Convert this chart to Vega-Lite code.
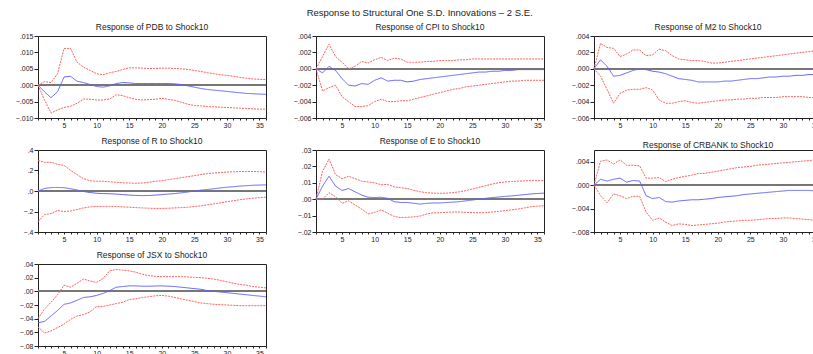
{
"$schema": "https://vega.github.io/schema/vega-lite/v6.json",
"background": "white",
"padding": {"left": 14, "top": 7, "right": 0, "bottom": 0},
"title": {"text": "Response to Structural One S.D. Innovations – 2 S.E.", "fontSize": 9.5, "fontWeight": "normal", "font": "Liberation Sans", "color": "#222", "anchor": "middle", "offset": 5},
"config": {
 "font": "Liberation Sans",
 "view": {"stroke": "#222", "strokeWidth": 1},
 "axis": {"grid": false, "domain": false, "tickColor": "#222", "tickSize": 4, "labelFontSize": 7, "labelColor": "#222", "labelPadding": 1, "labelOverlap": false, "labelFlush": false},
 "axisX": {"tickSize": 2, "labelPadding": 1},
 "title": {"fontSize": 8.5, "fontWeight": "normal", "color": "#222", "offset": 1},
 "legend": {"disable": true},
 "line": {"strokeWidth": 1}
},
"datasets": {
"pdb": [
{"h":1,"r":0,"lo":0,"hi":0},{"h":2,"r":-0.002,"lo":-0.0045,"hi":0.0011},{"h":3,"r":-0.0038,"lo":-0.0085,"hi":0.0008},{"h":4,"r":-0.002,"lo":-0.0075,"hi":0.0035},{"h":5,"r":0.0025,"lo":-0.0068,"hi":0.0112},{"h":6,"r":0.0027,"lo":-0.0064,"hi":0.0112},{"h":7,"r":0.0012,"lo":-0.0055,"hi":0.007},{"h":8,"r":0.0008,"lo":-0.0042,"hi":0.0055},{"h":9,"r":0.0002,"lo":-0.0043,"hi":0.0045},{"h":10,"r":-0.0004,"lo":-0.0045,"hi":0.0035},{"h":11,"r":-0.0006,"lo":-0.0045,"hi":0.0032},{"h":12,"r":-0.0002,"lo":-0.0042,"hi":0.0038},{"h":13,"r":0.0005,"lo":-0.0029,"hi":0.0042},{"h":14,"r":0.0008,"lo":-0.0032,"hi":0.0048},{"h":15,"r":0.0007,"lo":-0.0038,"hi":0.0053},{"h":16,"r":0.0005,"lo":-0.0043,"hi":0.0053},{"h":17,"r":0.0005,"lo":-0.0045,"hi":0.0052},{"h":18,"r":0.0005,"lo":-0.0044,"hi":0.0051},{"h":19,"r":0.0005,"lo":-0.0043,"hi":0.0051},{"h":20,"r":0.0005,"lo":-0.004,"hi":0.0052},{"h":21,"r":0.0005,"lo":-0.0043,"hi":0.0052},{"h":22,"r":0.0004,"lo":-0.0046,"hi":0.0051},{"h":23,"r":0.0002,"lo":-0.0052,"hi":0.005},{"h":24,"r":-0.0002,"lo":-0.0058,"hi":0.0048},{"h":25,"r":-0.0006,"lo":-0.0062,"hi":0.0045},{"h":26,"r":-0.001,"lo":-0.0063,"hi":0.0042},{"h":27,"r":-0.0013,"lo":-0.0065,"hi":0.0038},{"h":28,"r":-0.0015,"lo":-0.0066,"hi":0.0035},{"h":29,"r":-0.0017,"lo":-0.0067,"hi":0.0032},{"h":30,"r":-0.0019,"lo":-0.0068,"hi":0.003},{"h":31,"r":-0.0021,"lo":-0.0069,"hi":0.0027},{"h":32,"r":-0.0023,"lo":-0.007,"hi":0.0024},{"h":33,"r":-0.0025,"lo":-0.0071,"hi":0.0021},{"h":34,"r":-0.0026,"lo":-0.0072,"hi":0.0019},{"h":35,"r":-0.0027,"lo":-0.0073,"hi":0.0018},{"h":36,"r":-0.0028,"lo":-0.0073,"hi":0.0017}
],
"cpi": [
{"h":1,"r":0,"lo":0,"hi":0},{"h":2,"r":-0.0005,"lo":-0.0027,"hi":0.0015},{"h":3,"r":0.0003,"lo":-0.0023,"hi":0.003},{"h":4,"r":-0.0002,"lo":-0.002,"hi":0.0015},{"h":5,"r":-0.0012,"lo":-0.0034,"hi":0.0008},{"h":6,"r":-0.002,"lo":-0.004,"hi":0.0},{"h":7,"r":-0.0021,"lo":-0.0046,"hi":0.0003},{"h":8,"r":-0.0018,"lo":-0.0046,"hi":0.0009},{"h":9,"r":-0.0019,"lo":-0.0045,"hi":0.0007},{"h":10,"r":-0.0014,"lo":-0.004,"hi":0.0011},{"h":11,"r":-0.0011,"lo":-0.0037,"hi":0.0014},{"h":12,"r":-0.0015,"lo":-0.004,"hi":0.001},{"h":13,"r":-0.0014,"lo":-0.004,"hi":0.0013},{"h":14,"r":-0.0014,"lo":-0.0039,"hi":0.0012},{"h":15,"r":-0.0016,"lo":-0.0039,"hi":0.0008},{"h":16,"r":-0.0015,"lo":-0.0037,"hi":0.0008},{"h":17,"r":-0.0013,"lo":-0.0035,"hi":0.0008},{"h":18,"r":-0.0012,"lo":-0.0033,"hi":0.0009},{"h":19,"r":-0.0011,"lo":-0.0031,"hi":0.0009},{"h":20,"r":-0.001,"lo":-0.0029,"hi":0.001},{"h":21,"r":-0.0009,"lo":-0.0027,"hi":0.001},{"h":22,"r":-0.0008,"lo":-0.0025,"hi":0.001},{"h":23,"r":-0.0007,"lo":-0.0024,"hi":0.0011},{"h":24,"r":-0.0006,"lo":-0.0022,"hi":0.0011},{"h":25,"r":-0.0005,"lo":-0.0021,"hi":0.0012},{"h":26,"r":-0.0004,"lo":-0.002,"hi":0.0012},{"h":27,"r":-0.0004,"lo":-0.0019,"hi":0.0012},{"h":28,"r":-0.0003,"lo":-0.0018,"hi":0.0012},{"h":29,"r":-0.0003,"lo":-0.0017,"hi":0.0012},{"h":30,"r":-0.0002,"lo":-0.0016,"hi":0.0012},{"h":31,"r":-0.0002,"lo":-0.0015,"hi":0.0012},{"h":32,"r":-0.0001,"lo":-0.0015,"hi":0.0012},{"h":33,"r":-0.0001,"lo":-0.0014,"hi":0.0012},{"h":34,"r":-0.0001,"lo":-0.0014,"hi":0.0012},{"h":35,"r":-0.0001,"lo":-0.0014,"hi":0.0012},{"h":36,"r":-0.0001,"lo":-0.0014,"hi":0.0012}
],
"m2": [
{"h":1,"r":0,"lo":0,"hi":0},{"h":2,"r":0.0011,"lo":-0.0009,"hi":0.0031},{"h":3,"r":0.0003,"lo":-0.0025,"hi":0.0026},{"h":4,"r":-0.0009,"lo":-0.0042,"hi":0.0025},{"h":5,"r":-0.0008,"lo":-0.003,"hi":0.0015},{"h":6,"r":-0.0005,"lo":-0.0026,"hi":0.0018},{"h":7,"r":-0.0002,"lo":-0.0025,"hi":0.0023},{"h":8,"r":0.0,"lo":-0.0025,"hi":0.0023},{"h":9,"r":-0.0001,"lo":-0.0023,"hi":0.0016},{"h":10,"r":-0.0003,"lo":-0.0026,"hi":0.0017},{"h":11,"r":-0.0004,"lo":-0.0038,"hi":0.0024},{"h":12,"r":-0.0006,"lo":-0.0042,"hi":0.0022},{"h":13,"r":-0.0009,"lo":-0.0042,"hi":0.0016},{"h":14,"r":-0.0012,"lo":-0.004,"hi":0.0012},{"h":15,"r":-0.0013,"lo":-0.0039,"hi":0.0011},{"h":16,"r":-0.0014,"lo":-0.0041,"hi":0.001},{"h":17,"r":-0.0016,"lo":-0.0042,"hi":0.001},{"h":18,"r":-0.0016,"lo":-0.0041,"hi":0.0009},{"h":19,"r":-0.0016,"lo":-0.004,"hi":0.0007},{"h":20,"r":-0.0016,"lo":-0.0039,"hi":0.0007},{"h":21,"r":-0.0015,"lo":-0.0038,"hi":0.0008},{"h":22,"r":-0.0015,"lo":-0.0038,"hi":0.0009},{"h":23,"r":-0.0014,"lo":-0.0037,"hi":0.001},{"h":24,"r":-0.0013,"lo":-0.0037,"hi":0.0011},{"h":25,"r":-0.0012,"lo":-0.0036,"hi":0.0012},{"h":26,"r":-0.0012,"lo":-0.0036,"hi":0.0013},{"h":27,"r":-0.0011,"lo":-0.0035,"hi":0.0014},{"h":28,"r":-0.001,"lo":-0.0035,"hi":0.0015},{"h":29,"r":-0.001,"lo":-0.0035,"hi":0.0016},{"h":30,"r":-0.0009,"lo":-0.0034,"hi":0.0017},{"h":31,"r":-0.0009,"lo":-0.0034,"hi":0.0018},{"h":32,"r":-0.0008,"lo":-0.0034,"hi":0.0019},{"h":33,"r":-0.0008,"lo":-0.0034,"hi":0.002},{"h":34,"r":-0.0007,"lo":-0.0035,"hi":0.0021},{"h":35,"r":-0.0007,"lo":-0.0035,"hi":0.0022},{"h":36,"r":-0.0006,"lo":-0.0036,"hi":0.0023}
],
"rr": [
{"h":1,"r":0,"lo":-0.3,"hi":0.3},{"h":2,"r":0.025,"lo":-0.23,"hi":0.28},{"h":3,"r":0.033,"lo":-0.22,"hi":0.28},{"h":4,"r":0.035,"lo":-0.19,"hi":0.26},{"h":5,"r":0.032,"lo":-0.2,"hi":0.25},{"h":6,"r":0.022,"lo":-0.195,"hi":0.2},{"h":7,"r":0.01,"lo":-0.18,"hi":0.16},{"h":8,"r":-0.005,"lo":-0.165,"hi":0.12},{"h":9,"r":-0.015,"lo":-0.155,"hi":0.1},{"h":10,"r":-0.022,"lo":-0.15,"hi":0.095},{"h":11,"r":-0.025,"lo":-0.15,"hi":0.095},{"h":12,"r":-0.027,"lo":-0.15,"hi":0.09},{"h":13,"r":-0.03,"lo":-0.15,"hi":0.085},{"h":14,"r":-0.035,"lo":-0.155,"hi":0.08},{"h":15,"r":-0.04,"lo":-0.158,"hi":0.078},{"h":16,"r":-0.043,"lo":-0.162,"hi":0.075},{"h":17,"r":-0.045,"lo":-0.165,"hi":0.078},{"h":18,"r":-0.044,"lo":-0.168,"hi":0.085},{"h":19,"r":-0.04,"lo":-0.17,"hi":0.095},{"h":20,"r":-0.035,"lo":-0.17,"hi":0.1},{"h":21,"r":-0.03,"lo":-0.168,"hi":0.11},{"h":22,"r":-0.025,"lo":-0.165,"hi":0.12},{"h":23,"r":-0.018,"lo":-0.162,"hi":0.13},{"h":24,"r":-0.01,"lo":-0.158,"hi":0.14},{"h":25,"r":0.0,"lo":-0.152,"hi":0.15},{"h":26,"r":0.008,"lo":-0.145,"hi":0.16},{"h":27,"r":0.015,"lo":-0.135,"hi":0.17},{"h":28,"r":0.022,"lo":-0.125,"hi":0.175},{"h":29,"r":0.03,"lo":-0.115,"hi":0.18},{"h":30,"r":0.037,"lo":-0.105,"hi":0.185},{"h":31,"r":0.042,"lo":-0.095,"hi":0.188},{"h":32,"r":0.048,"lo":-0.085,"hi":0.19},{"h":33,"r":0.052,"lo":-0.077,"hi":0.19},{"h":34,"r":0.056,"lo":-0.07,"hi":0.19},{"h":35,"r":0.058,"lo":-0.065,"hi":0.188},{"h":36,"r":0.06,"lo":-0.06,"hi":0.185}
],
"ee": [
{"h":1,"r":0,"lo":0,"hi":0},{"h":2,"r":0.008,"lo":0.0,"hi":0.017},{"h":3,"r":0.014,"lo":0.004,"hi":0.0245},{"h":4,"r":0.008,"lo":0.0015,"hi":0.015},{"h":5,"r":0.0053,"lo":-0.0025,"hi":0.0125},{"h":6,"r":0.0065,"lo":-0.001,"hi":0.014},{"h":7,"r":0.0045,"lo":-0.0035,"hi":0.0125},{"h":8,"r":0.0025,"lo":-0.006,"hi":0.011},{"h":9,"r":0.0012,"lo":-0.009,"hi":0.0105},{"h":10,"r":0.001,"lo":-0.008,"hi":0.01},{"h":11,"r":0.0012,"lo":-0.0065,"hi":0.0088},{"h":12,"r":0.0005,"lo":-0.0085,"hi":0.009},{"h":13,"r":-0.0015,"lo":-0.0105,"hi":0.0075},{"h":14,"r":-0.002,"lo":-0.0112,"hi":0.007},{"h":15,"r":-0.002,"lo":-0.011,"hi":0.0065},{"h":16,"r":-0.0025,"lo":-0.0108,"hi":0.0055},{"h":17,"r":-0.003,"lo":-0.0102,"hi":0.0045},{"h":18,"r":-0.0025,"lo":-0.009,"hi":0.004},{"h":19,"r":-0.0023,"lo":-0.0083,"hi":0.0037},{"h":20,"r":-0.0023,"lo":-0.0083,"hi":0.0036},{"h":21,"r":-0.002,"lo":-0.008,"hi":0.0037},{"h":22,"r":-0.0018,"lo":-0.0078,"hi":0.004},{"h":23,"r":-0.0015,"lo":-0.0078,"hi":0.0045},{"h":24,"r":-0.001,"lo":-0.008,"hi":0.0052},{"h":25,"r":-0.0005,"lo":-0.0082,"hi":0.0062},{"h":26,"r":0.0,"lo":-0.0083,"hi":0.0072},{"h":27,"r":0.0005,"lo":-0.0082,"hi":0.0082},{"h":28,"r":0.001,"lo":-0.0078,"hi":0.0092},{"h":29,"r":0.0013,"lo":-0.0075,"hi":0.01},{"h":30,"r":0.0017,"lo":-0.007,"hi":0.0105},{"h":31,"r":0.002,"lo":-0.0065,"hi":0.0108},{"h":32,"r":0.0024,"lo":-0.006,"hi":0.011},{"h":33,"r":0.0028,"lo":-0.0053,"hi":0.0112},{"h":34,"r":0.0032,"lo":-0.0046,"hi":0.0113},{"h":35,"r":0.0035,"lo":-0.0042,"hi":0.0113},{"h":36,"r":0.0037,"lo":-0.004,"hi":0.0113}
],
"crbank": [
{"h":1,"r":0,"lo":0,"hi":0},{"h":2,"r":0.001,"lo":-0.0018,"hi":0.0041},{"h":3,"r":0.0007,"lo":-0.003,"hi":0.0043},{"h":4,"r":0.001,"lo":-0.0015,"hi":0.0036},{"h":5,"r":0.0012,"lo":-0.0018,"hi":0.0043},{"h":6,"r":0.0005,"lo":-0.0023,"hi":0.0034},{"h":7,"r":0.0008,"lo":-0.0019,"hi":0.0034},{"h":8,"r":0.0007,"lo":-0.0019,"hi":0.0033},{"h":9,"r":-0.0018,"lo":-0.0046,"hi":0.0012},{"h":10,"r":-0.0023,"lo":-0.006,"hi":0.0012},{"h":11,"r":-0.0021,"lo":-0.0056,"hi":0.0013},{"h":12,"r":-0.0028,"lo":-0.0063,"hi":0.0006},{"h":13,"r":-0.0029,"lo":-0.0069,"hi":0.001},{"h":14,"r":-0.0027,"lo":-0.0066,"hi":0.0013},{"h":15,"r":-0.0026,"lo":-0.0067,"hi":0.0015},{"h":16,"r":-0.0025,"lo":-0.0069,"hi":0.0017},{"h":17,"r":-0.0025,"lo":-0.0068,"hi":0.002},{"h":18,"r":-0.0024,"lo":-0.0067,"hi":0.002},{"h":19,"r":-0.0023,"lo":-0.0066,"hi":0.0022},{"h":20,"r":-0.0021,"lo":-0.0065,"hi":0.0024},{"h":21,"r":-0.002,"lo":-0.0063,"hi":0.0026},{"h":22,"r":-0.0019,"lo":-0.0062,"hi":0.0028},{"h":23,"r":-0.0018,"lo":-0.0061,"hi":0.003},{"h":24,"r":-0.0016,"lo":-0.006,"hi":0.0031},{"h":25,"r":-0.0015,"lo":-0.006,"hi":0.0032},{"h":26,"r":-0.0014,"lo":-0.0059,"hi":0.0034},{"h":27,"r":-0.0013,"lo":-0.0058,"hi":0.0035},{"h":28,"r":-0.0012,"lo":-0.0057,"hi":0.0036},{"h":29,"r":-0.0011,"lo":-0.0057,"hi":0.0037},{"h":30,"r":-0.001,"lo":-0.0056,"hi":0.0038},{"h":31,"r":-0.0009,"lo":-0.0056,"hi":0.0039},{"h":32,"r":-0.0009,"lo":-0.0057,"hi":0.004},{"h":33,"r":-0.0009,"lo":-0.0058,"hi":0.0041},{"h":34,"r":-0.0009,"lo":-0.0059,"hi":0.0042},{"h":35,"r":-0.001,"lo":-0.006,"hi":0.0043},{"h":36,"r":-0.001,"lo":-0.0061,"hi":0.0043}
],
"jsx": [
{"h":1,"r":-0.046,"lo":-0.052,"hi":-0.04},{"h":2,"r":-0.044,"lo":-0.061,"hi":-0.026},{"h":3,"r":-0.036,"lo":-0.058,"hi":-0.016},{"h":4,"r":-0.028,"lo":-0.053,"hi":-0.005},{"h":5,"r":-0.019,"lo":-0.048,"hi":0.009},{"h":6,"r":-0.017,"lo":-0.041,"hi":0.006},{"h":7,"r":-0.013,"lo":-0.036,"hi":0.012},{"h":8,"r":-0.009,"lo":-0.034,"hi":0.018},{"h":9,"r":-0.008,"lo":-0.03,"hi":0.015},{"h":10,"r":-0.006,"lo":-0.022,"hi":0.013},{"h":11,"r":-0.003,"lo":-0.022,"hi":0.019},{"h":12,"r":0.001,"lo":-0.02,"hi":0.03},{"h":13,"r":0.006,"lo":-0.018,"hi":0.032},{"h":14,"r":0.007,"lo":-0.016,"hi":0.031},{"h":15,"r":0.008,"lo":-0.012,"hi":0.03},{"h":16,"r":0.008,"lo":-0.011,"hi":0.028},{"h":17,"r":0.0075,"lo":-0.009,"hi":0.025},{"h":18,"r":0.0075,"lo":-0.008,"hi":0.023},{"h":19,"r":0.0078,"lo":-0.0065,"hi":0.022},{"h":20,"r":0.008,"lo":-0.006,"hi":0.0215},{"h":21,"r":0.0075,"lo":-0.007,"hi":0.0215},{"h":22,"r":0.007,"lo":-0.009,"hi":0.0215},{"h":23,"r":0.006,"lo":-0.011,"hi":0.0215},{"h":24,"r":0.005,"lo":-0.013,"hi":0.021},{"h":25,"r":0.004,"lo":-0.015,"hi":0.0205},{"h":26,"r":0.003,"lo":-0.017,"hi":0.02},{"h":27,"r":0.001,"lo":-0.018,"hi":0.019},{"h":28,"r":0.0,"lo":-0.019,"hi":0.018},{"h":29,"r":-0.001,"lo":-0.0195,"hi":0.016},{"h":30,"r":-0.002,"lo":-0.02,"hi":0.014},{"h":31,"r":-0.003,"lo":-0.0205,"hi":0.012},{"h":32,"r":-0.004,"lo":-0.021,"hi":0.01},{"h":33,"r":-0.005,"lo":-0.021,"hi":0.009},{"h":34,"r":-0.006,"lo":-0.021,"hi":0.007},{"h":35,"r":-0.007,"lo":-0.021,"hi":0.006},{"h":36,"r":-0.008,"lo":-0.021,"hi":0.005}
]
},
"columns": 3,
"spacing": {"row": 7, "column": 23},
"concat": [
{"title": "Response of PDB to Shock10", "width": 228, "height": 82, "data": {"name": "pdb"},
 "transform": [{"fold": ["lo", "hi", "r"], "as": ["band", "val"]}],
 "encoding": {
   "x": {"field": "h", "type": "quantitative", "title": null, "scale": {"domain": [1, 36], "nice": false, "zero": false}, "axis": {"values": [1,2,3,4,5,6,7,8,9,10,11,12,13,14,15,16,17,18,19,20,21,22,23,24,25,26,27,28,29,30,31,32,33,34,35,36], "labelExpr": "datum.value % 5 == 0 ? datum.value : ''"}},
   "y": {"field": "val", "type": "quantitative", "title": null, "scale": {"domain": [-0.01, 0.015], "nice": false}, "axis": {"values": [-0.01, -0.005, 0, 0.005, 0.01, 0.015], "labelExpr": "replace(format(datum.value, '.3f'), '0.', '.')"}}
 },
 "layer": [
  {"mark": {"type": "rule", "color": "#777", "strokeWidth": 1}, "encoding": {"x": null, "y": {"datum": 0, "type": "quantitative", "title": null, "axis": {"values": [-0.01, -0.005, 0, 0.005, 0.01, 0.015], "labelExpr": "replace(format(datum.value, '.3f'), '0.', '.')"}}}},
  {"mark": {"type": "line"}, "encoding": {
   "detail": {"field": "band"},
   "color": {"field": "band", "scale": {"domain": ["r", "lo", "hi"], "range": ["#6060ff", "#ff6060", "#ff6060"]}},
   "strokeDash": {"field": "band", "scale": {"domain": ["r", "lo", "hi"], "range": [[1, 0], [2, 1], [2, 1]]}}
  }}
 ]},
{"title": "Response of CPI to Shock10", "width": 228, "height": 82, "data": {"name": "cpi"},
 "transform": [{"fold": ["lo", "hi", "r"], "as": ["band", "val"]}],
 "encoding": {
   "x": {"field": "h", "type": "quantitative", "title": null, "scale": {"domain": [1, 36], "nice": false, "zero": false}, "axis": {"values": [1,2,3,4,5,6,7,8,9,10,11,12,13,14,15,16,17,18,19,20,21,22,23,24,25,26,27,28,29,30,31,32,33,34,35,36], "labelExpr": "datum.value % 5 == 0 ? datum.value : ''"}},
   "y": {"field": "val", "type": "quantitative", "title": null, "scale": {"domain": [-0.006, 0.004], "nice": false}, "axis": {"values": [-0.006, -0.004, -0.002, 0, 0.002, 0.004], "labelExpr": "replace(format(datum.value, '.3f'), '0.', '.')"}}
 },
 "layer": [
  {"mark": {"type": "rule", "color": "#777", "strokeWidth": 1}, "encoding": {"x": null, "y": {"datum": 0, "type": "quantitative", "title": null, "axis": {"values": [-0.006, -0.004, -0.002, 0, 0.002, 0.004], "labelExpr": "replace(format(datum.value, '.3f'), '0.', '.')"}}}},
  {"mark": {"type": "line"}, "encoding": {
   "detail": {"field": "band"},
   "color": {"field": "band", "scale": {"domain": ["r", "lo", "hi"], "range": ["#6060ff", "#ff6060", "#ff6060"]}},
   "strokeDash": {"field": "band", "scale": {"domain": ["r", "lo", "hi"], "range": [[1, 0], [2, 1], [2, 1]]}}
  }}
 ]},
{"title": "Response of M2 to Shock10", "width": 228, "height": 82, "data": {"name": "m2"},
 "transform": [{"fold": ["lo", "hi", "r"], "as": ["band", "val"]}],
 "encoding": {
   "x": {"field": "h", "type": "quantitative", "title": null, "scale": {"domain": [1, 36], "nice": false, "zero": false}, "axis": {"values": [1,2,3,4,5,6,7,8,9,10,11,12,13,14,15,16,17,18,19,20,21,22,23,24,25,26,27,28,29,30,31,32,33,34,35,36], "labelExpr": "datum.value % 5 == 0 ? datum.value : ''"}},
   "y": {"field": "val", "type": "quantitative", "title": null, "scale": {"domain": [-0.006, 0.004], "nice": false}, "axis": {"values": [-0.006, -0.004, -0.002, 0, 0.002, 0.004], "labelExpr": "replace(format(datum.value, '.3f'), '0.', '.')"}}
 },
 "layer": [
  {"mark": {"type": "rule", "color": "#777", "strokeWidth": 1}, "encoding": {"x": null, "y": {"datum": 0, "type": "quantitative", "title": null, "axis": {"values": [-0.006, -0.004, -0.002, 0, 0.002, 0.004], "labelExpr": "replace(format(datum.value, '.3f'), '0.', '.')"}}}},
  {"mark": {"type": "line"}, "encoding": {
   "detail": {"field": "band"},
   "color": {"field": "band", "scale": {"domain": ["r", "lo", "hi"], "range": ["#6060ff", "#ff6060", "#ff6060"]}},
   "strokeDash": {"field": "band", "scale": {"domain": ["r", "lo", "hi"], "range": [[1, 0], [2, 1], [2, 1]]}}
  }}
 ]},
{"title": "Response of R to Shock10", "width": 228, "height": 82, "data": {"name": "rr"},
 "transform": [{"fold": ["lo", "hi", "r"], "as": ["band", "val"]}],
 "encoding": {
   "x": {"field": "h", "type": "quantitative", "title": null, "scale": {"domain": [1, 36], "nice": false, "zero": false}, "axis": {"values": [1,2,3,4,5,6,7,8,9,10,11,12,13,14,15,16,17,18,19,20,21,22,23,24,25,26,27,28,29,30,31,32,33,34,35,36], "labelExpr": "datum.value % 5 == 0 ? datum.value : ''"}},
   "y": {"field": "val", "type": "quantitative", "title": null, "scale": {"domain": [-0.4, 0.4], "nice": false}, "axis": {"values": [-0.4, -0.2, 0, 0.2, 0.4], "labelExpr": "replace(format(datum.value, '.1f'), '0.', '.')"}}
 },
 "layer": [
  {"mark": {"type": "rule", "color": "#777", "strokeWidth": 1}, "encoding": {"x": null, "y": {"datum": 0, "type": "quantitative", "title": null, "axis": {"values": [-0.4, -0.2, 0, 0.2, 0.4], "labelExpr": "replace(format(datum.value, '.1f'), '0.', '.')"}}}},
  {"mark": {"type": "line"}, "encoding": {
   "detail": {"field": "band"},
   "color": {"field": "band", "scale": {"domain": ["r", "lo", "hi"], "range": ["#6060ff", "#ff6060", "#ff6060"]}},
   "strokeDash": {"field": "band", "scale": {"domain": ["r", "lo", "hi"], "range": [[1, 0], [2, 1], [2, 1]]}}
  }}
 ]},
{"title": "Response of E to Shock10", "width": 228, "height": 82, "data": {"name": "ee"},
 "transform": [{"fold": ["lo", "hi", "r"], "as": ["band", "val"]}],
 "encoding": {
   "x": {"field": "h", "type": "quantitative", "title": null, "scale": {"domain": [1, 36], "nice": false, "zero": false}, "axis": {"values": [1,2,3,4,5,6,7,8,9,10,11,12,13,14,15,16,17,18,19,20,21,22,23,24,25,26,27,28,29,30,31,32,33,34,35,36], "labelExpr": "datum.value % 5 == 0 ? datum.value : ''"}},
   "y": {"field": "val", "type": "quantitative", "title": null, "scale": {"domain": [-0.02, 0.03], "nice": false}, "axis": {"values": [-0.02, -0.01, 0, 0.01, 0.02, 0.03], "labelExpr": "replace(format(datum.value, '.2f'), '0.', '.')"}}
 },
 "layer": [
  {"mark": {"type": "rule", "color": "#777", "strokeWidth": 1}, "encoding": {"x": null, "y": {"datum": 0, "type": "quantitative", "title": null, "axis": {"values": [-0.02, -0.01, 0, 0.01, 0.02, 0.03], "labelExpr": "replace(format(datum.value, '.2f'), '0.', '.')"}}}},
  {"mark": {"type": "line"}, "encoding": {
   "detail": {"field": "band"},
   "color": {"field": "band", "scale": {"domain": ["r", "lo", "hi"], "range": ["#6060ff", "#ff6060", "#ff6060"]}},
   "strokeDash": {"field": "band", "scale": {"domain": ["r", "lo", "hi"], "range": [[1, 0], [2, 1], [2, 1]]}}
  }}
 ]},
{"title": "Response of CRBANK to Shock10", "width": 228, "height": 82, "data": {"name": "crbank"},
 "transform": [{"fold": ["lo", "hi", "r"], "as": ["band", "val"]}],
 "encoding": {
   "x": {"field": "h", "type": "quantitative", "title": null, "scale": {"domain": [1, 36], "nice": false, "zero": false}, "axis": {"values": [1,2,3,4,5,6,7,8,9,10,11,12,13,14,15,16,17,18,19,20,21,22,23,24,25,26,27,28,29,30,31,32,33,34,35,36], "labelExpr": "datum.value % 5 == 0 ? datum.value : ''"}},
   "y": {"field": "val", "type": "quantitative", "title": null, "scale": {"domain": [-0.008, 0.006], "nice": false}, "axis": {"values": [-0.008, -0.004, 0, 0.004], "labelExpr": "replace(format(datum.value, '.3f'), '0.', '.')"}}
 },
 "layer": [
  {"mark": {"type": "rule", "color": "#777", "strokeWidth": 1}, "encoding": {"x": null, "y": {"datum": 0, "type": "quantitative", "title": null, "axis": {"values": [-0.008, -0.004, 0, 0.004], "labelExpr": "replace(format(datum.value, '.3f'), '0.', '.')"}}}},
  {"mark": {"type": "line"}, "encoding": {
   "detail": {"field": "band"},
   "color": {"field": "band", "scale": {"domain": ["r", "lo", "hi"], "range": ["#6060ff", "#ff6060", "#ff6060"]}},
   "strokeDash": {"field": "band", "scale": {"domain": ["r", "lo", "hi"], "range": [[1, 0], [2, 1], [2, 1]]}}
  }}
 ]},
{"title": "Response of JSX to Shock10", "width": 228, "height": 82, "data": {"name": "jsx"},
 "transform": [{"fold": ["lo", "hi", "r"], "as": ["band", "val"]}],
 "encoding": {
   "x": {"field": "h", "type": "quantitative", "title": null, "scale": {"domain": [1, 36], "nice": false, "zero": false}, "axis": {"values": [1,2,3,4,5,6,7,8,9,10,11,12,13,14,15,16,17,18,19,20,21,22,23,24,25,26,27,28,29,30,31,32,33,34,35,36], "labelExpr": "datum.value % 5 == 0 ? datum.value : ''"}},
   "y": {"field": "val", "type": "quantitative", "title": null, "scale": {"domain": [-0.08, 0.04], "nice": false}, "axis": {"values": [-0.08, -0.06, -0.04, -0.02, 0, 0.02, 0.04], "labelExpr": "replace(format(datum.value, '.2f'), '0.', '.')"}}
 },
 "layer": [
  {"mark": {"type": "rule", "color": "#777", "strokeWidth": 1}, "encoding": {"x": null, "y": {"datum": 0, "type": "quantitative", "title": null, "axis": {"values": [-0.08, -0.06, -0.04, -0.02, 0, 0.02, 0.04], "labelExpr": "replace(format(datum.value, '.2f'), '0.', '.')"}}}},
  {"mark": {"type": "line"}, "encoding": {
   "detail": {"field": "band"},
   "color": {"field": "band", "scale": {"domain": ["r", "lo", "hi"], "range": ["#6060ff", "#ff6060", "#ff6060"]}},
   "strokeDash": {"field": "band", "scale": {"domain": ["r", "lo", "hi"], "range": [[1, 0], [2, 1], [2, 1]]}}
  }}
 ]}
]
}
